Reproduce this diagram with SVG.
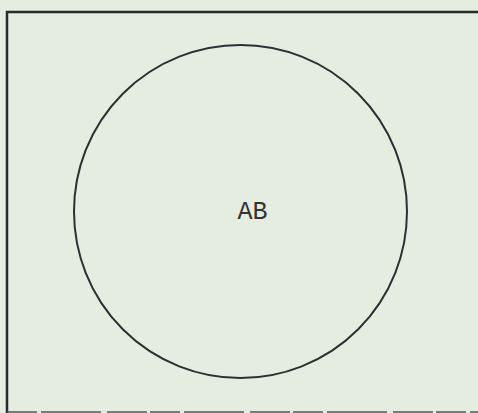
<svg xmlns="http://www.w3.org/2000/svg" width="478" height="413" viewBox="0 0 478 413">
<style>
.frame{fill:none;stroke:#2a2a2e;stroke-width:2.5}
.circ{fill:none;stroke:#2f2f33;stroke-width:2}
.lbl{font-family:"Liberation Mono","DejaVu Sans Mono",monospace;font-size:25px;fill:#333;text-anchor:middle}
</style>
<rect width="478" height="413" fill="#e5ede0"/>
<g id="frame">
<path class="frame" d="M7,413 L7,12 L478,12"/>
<path d="M7,412 L478,412" stroke="#55555a" stroke-width="1.5" stroke-dasharray="30,4,60,6,40,3"/>
</g>
<g id="node-AB">
<circle class="circ" cx="240.5" cy="211.5" r="166.5"/>
<text class="lbl" x="252.5" y="219">AB</text>
</g>
<g id="connectors"/>
</svg>
